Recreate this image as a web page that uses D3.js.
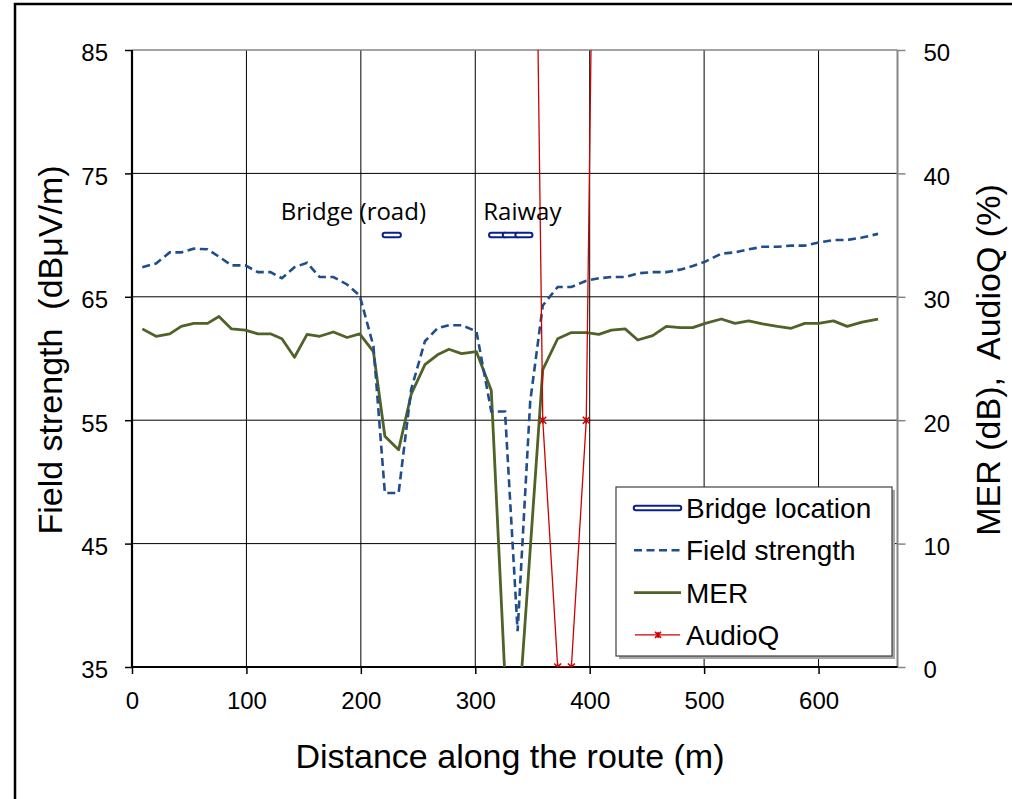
<!DOCTYPE html>
<html>
<head>
<meta charset="utf-8">
<script src="https://cdn.jsdelivr.net/npm/d3@7"></script>
<style>
  body { margin: 0; background: #fff; }
  text { font-family: "Liberation Sans", Arial, sans-serif; fill: #000; }
  .note { font-family: "Open Sans", sans-serif; }
</style>
</head>
<body>
<div id="chart"></div>
<script>
// distance along the route (m), shared by all series
const distance = [9, 21, 33, 43, 54, 66, 76, 87, 99, 110,
  121, 131, 142, 153, 164, 176, 188, 199, 211, 221,
  233, 244, 256, 267, 277, 288, 301, 314, 326, 337,
  348, 359, 372, 384, 397, 408, 419, 431, 442, 455,
  467, 479, 490, 501, 515, 527, 539, 551, 564, 576,
  588, 600, 613, 625, 638, 652];

// field strength (dBuV/m), left axis
const fieldStrength = [67.4, 67.7, 68.6, 68.6, 68.9, 68.85, 68.25, 67.55, 67.55, 67.0,
  67.0, 66.5, 67.4, 67.75, 66.6, 66.6, 66.0, 65.1, 61.0, 49.1,
  49.1, 57.5, 61.4, 62.45, 62.7, 62.7, 62.2, 55.7, 55.7, 37.9,
  56.5, 64.3, 65.8, 65.8, 66.3, 66.5, 66.6, 66.6, 66.9, 67.0,
  67.0, 67.2, 67.5, 67.85, 68.5, 68.6, 68.85, 69.05, 69.05, 69.15,
  69.15, 69.4, 69.6, 69.6, 69.8, 70.1];

// MER (dB), right axis
const mer = [27.4, 26.8, 27.0, 27.6, 27.85, 27.85, 28.4, 27.4, 27.3, 27.0,
  27.0, 26.6, 25.1, 26.95, 26.8, 27.15, 26.7, 27.0, 25.55, 18.7,
  17.6, 22.1, 24.5, 25.3, 25.75, 25.4, 25.55, 22.4, -1, -5,
  9.5, 24.1, 26.6, 27.1, 27.1, 26.95, 27.3, 27.4, 26.5, 26.85,
  27.6, 27.5, 27.5, 27.85, 28.2, 27.85, 28.05, 27.8, 27.6, 27.45,
  27.85, 27.85, 28.05, 27.6, 27.95, 28.2];

// AudioQ (%), right axis
const audioQ = [100, 100, 100, 100, 100, 100, 100, 100, 100, 100,
  100, 100, 100, 100, 100, 100, 100, 100, 100, 100,
  100, 100, 100, 100, 100, 100, 100, 100, 100, 100,
  100, 20, 0, 0, 20, 100, 100, 100, 100, 100,
  100, 100, 100, 100, 100, 100, 100, 100, 100, 100,
  100, 100, 100, 100, 100, 100];

// bridge location markers (left axis), null = no bridge
const bridge = [null, null, null, null, null, null, null, null, null, null,
  null, null, null, null, null, null, null, null, null, 70,
  70, null, null, null, null, null, null, 70, 70, 70,
  70, null, null, null, null, null, null, null, null, null,
  null, null, null, null, null, null, null, null, null, null,
  null, null, null, null, null, null];

const xTicks = [0, 100, 200, 300, 400, 500, 600];
const leftTicks = [35, 45, 55, 65, 75, 85];
const rightTicks = [0, 10, 20, 30, 40, 50];

const notes = [
  { label: "Bridge (road)", x: 130 },
  { label: "Raiway", x: 307 }
];

let width = 1012,
    height = 799,
    margin = ({ top: 50, right: 114.5, bottom: 132, left: 132 });

const svg = d3.select("#chart")
  .append("svg")
  .attr("width", width)
  .attr("height", height);

let x = d3.scaleLinear()
  .domain([0, 669])
  .range([margin.left, width - margin.right]);

let yLeft = d3.scaleLinear()
  .domain([35, 85])
  .range([height - margin.bottom, margin.top]);

let yRight = d3.scaleLinear()
  .domain([0, 50])
  .range([height - margin.bottom, margin.top]);

let x0 = margin.left, x1 = width - margin.right,
    y0 = height - margin.bottom, y1 = margin.top;

// outer chart frame
svg.append("rect")
  .attr("x", 15).attr("y", 4)
  .attr("width", 1100).attr("height", 900)
  .attr("fill", "none")
  .attr("stroke", "#000")
  .attr("stroke-width", 2.5);

svg.append("clipPath")
  .attr("id", "plot")
  .append("rect")
  .attr("x", x0).attr("y", y1)
  .attr("width", x1 - x0).attr("height", y0 - y1);

// grid
svg.append("g")
  .selectAll("line")
  .data(xTicks.slice(1))
  .join("line")
  .attr("x1", d => x(d)).attr("x2", d => x(d))
  .attr("y1", y1).attr("y2", y0)
  .attr("stroke", "#000")
  .attr("stroke-width", 1);

svg.append("g")
  .selectAll("line")
  .data(leftTicks.slice(1, -1))
  .join("line")
  .attr("x1", x0).attr("x2", x1)
  .attr("y1", d => yLeft(d)).attr("y2", d => yLeft(d))
  .attr("stroke", "#000")
  .attr("stroke-width", 1);

svg.append("line")
  .attr("x1", x0).attr("x2", x1)
  .attr("y1", y1).attr("y2", y1)
  .attr("stroke", "#868686")
  .attr("stroke-width", 1.5);

// axes
let axL = svg.append("g")
  .attr("transform", `translate(${x0},0)`)
  .call(d3.axisLeft(yLeft).tickValues(leftTicks).tickSize(7).tickPadding(17));

let axB = svg.append("g")
  .attr("transform", `translate(0,${y0})`)
  .call(d3.axisBottom(x).tickValues(xTicks).tickSize(7).tickPadding(12));

let axR = svg.append("g")
  .attr("transform", `translate(${x1},0)`)
  .call(d3.axisRight(yRight).tickValues(rightTicks).tickSize(8).tickPadding(18));

for (let ax of [axL, axB, axR]) {
  ax.select(".domain").remove();
  ax.selectAll("text")
    .style("font-size", "24px")
    .style("font-family", "'Liberation Sans', Arial, sans-serif");
}
axL.selectAll("text").attr("dy", "0.45em");
axR.selectAll("text").attr("dy", "0.45em");
axB.selectAll("text").attr("dy", "0.95em");
axL.selectAll(".tick line").attr("stroke", "#000").attr("stroke-width", 1.5);
axB.selectAll(".tick line").attr("stroke", "#000").attr("stroke-width", 1.5);
axR.selectAll(".tick line").attr("stroke", "#868686").attr("stroke-width", 1.5);

svg.append("line")
  .attr("x1", x1).attr("x2", x1).attr("y1", y1).attr("y2", y0)
  .attr("stroke", "#868686").attr("stroke-width", 2);
svg.append("line")
  .attr("x1", x0).attr("x2", x0).attr("y1", y1).attr("y2", y0 + 1)
  .attr("stroke", "#000").attr("stroke-width", 2.2);
svg.append("line")
  .attr("x1", x0 - 1).attr("x2", x1).attr("y1", y0).attr("y2", y0)
  .attr("stroke", "#000").attr("stroke-width", 2.2);

// series
const rows = distance.map((d, i) => ({
  d: d, fs: fieldStrength[i], mer: mer[i], aq: audioQ[i], br: bridge[i]
}));

let plot = svg.append("g").attr("clip-path", "url(#plot)");

let lineFs = d3.line().x(r => x(r.d)).y(r => yLeft(r.fs));
let lineMer = d3.line().x(r => x(r.d)).y(r => yRight(r.mer));
let lineAq = d3.line().x(r => x(r.d)).y(r => yRight(r.aq));

plot.append("path")
  .datum(rows)
  .attr("d", lineMer)
  .attr("fill", "none")
  .attr("stroke", "#4f6228")
  .attr("stroke-width", 2.8)
  .attr("stroke-linejoin", "round");

plot.append("path")
  .datum(rows)
  .attr("d", lineFs)
  .attr("fill", "none")
  .attr("stroke", "#1f4e8c")
  .attr("stroke-width", 2.6)
  .attr("stroke-dasharray", "8,4.5");

plot.append("path")
  .datum(rows)
  .attr("d", lineAq)
  .attr("fill", "none")
  .attr("stroke", "#d00000")
  .attr("stroke-width", 1.3);

const starPath = s => `M${-s},${-s}L${s},${s}M${-s},${s}L${s},${-s}M0,${-s}L0,${s}`;

plot.append("g")
  .selectAll("path")
  .data(rows.filter(r => r.aq <= 50))
  .join("path")
  .attr("transform", r => `translate(${x(r.d)},${yRight(r.aq)})`)
  .attr("d", starPath(3.5))
  .attr("stroke", "#d00000")
  .attr("stroke-width", 1.5);

// bridge markers, drawn segment by segment like the double line
let segs = [];
for (let i = 1; i < rows.length; i++) {
  if (rows[i - 1].br != null && rows[i].br != null) segs.push([rows[i - 1], rows[i]]);
}
let brLine = d3.line().x(r => x(r.d)).y(r => yLeft(r.br));
for (let s of segs) {
  plot.append("path").attr("d", brLine(s))
    .attr("stroke", "#0a1f8f").attr("stroke-width", 6.5)
    .attr("stroke-linecap", "round").attr("fill", "none");
  plot.append("path").attr("d", brLine(s))
    .attr("stroke", "#fff").attr("stroke-width", 2.5)
    .attr("stroke-linecap", "round").attr("fill", "none");
}

svg.selectAll(".note")
  .data(notes)
  .join("text")
  .attr("class", "note")
  .attr("x", d => x(d.x))
  .attr("y", 220)
  .style("font-size", "24px")
  .text(d => d.label);

// axis titles
svg.append("text")
  .attr("text-anchor", "middle")
  .attr("x", 510)
  .attr("y", 768)
  .style("font-size", "34px")
  .text("Distance along the route (m)");

svg.append("text")
  .attr("text-anchor", "middle")
  .attr("transform", "translate(62,350) rotate(-90)")
  .style("font-size", "34px")
  .style("white-space", "pre")
  .text("Field strength  (dBμV/m)");

svg.append("text")
  .attr("text-anchor", "middle")
  .attr("transform", "translate(1000,360) rotate(-90)")
  .style("font-size", "34px")
  .style("white-space", "pre")
  .text("MER (dB),  AudioQ (%)");

// legend
const legendItems = ["Bridge location", "Field strength", "MER", "AudioQ"];
let lg = svg.append("g");
lg.append("rect")
  .attr("x", 619).attr("y", 490)
  .attr("width", 276).attr("height", 169)
  .attr("fill", "#a6a6a6");
lg.append("rect")
  .attr("x", 616).attr("y", 487)
  .attr("width", 276).attr("height", 169)
  .attr("fill", "#fff")
  .attr("stroke", "#404040")
  .attr("stroke-width", 1.2);

let item = lg.selectAll(".item")
  .data(legendItems)
  .join("g")
  .attr("class", "item")
  .attr("transform", (d, i) => `translate(0,${508 + i * 42.3})`);

item.append("text")
  .attr("x", 686)
  .attr("y", 10)
  .style("font-size", "28px")
  .text(d => d);

let ls = (g, i) => g.filter((d, j) => j === i);
ls(item, 0).append("line").attr("x1", 636).attr("x2", 679)
  .attr("stroke", "#0a1f8f").attr("stroke-width", 6.5).attr("stroke-linecap", "round");
ls(item, 0).append("line").attr("x1", 636).attr("x2", 679)
  .attr("stroke", "#fff").attr("stroke-width", 2.5).attr("stroke-linecap", "round");
ls(item, 1).append("line").attr("x1", 634).attr("x2", 681)
  .attr("stroke", "#1f4e8c").attr("stroke-width", 2.6).attr("stroke-dasharray", "8,4.5");
ls(item, 2).append("line").attr("x1", 634).attr("x2", 681)
  .attr("stroke", "#4f6228").attr("stroke-width", 2.8);
ls(item, 3).append("line").attr("x1", 635).attr("x2", 680)
  .attr("stroke", "#d00000").attr("stroke-width", 1.3);
ls(item, 3).append("path").attr("transform", "translate(658,0)")
  .attr("d", starPath(3)).attr("stroke", "#d00000").attr("stroke-width", 1.5);
</script>
</body>
</html>
